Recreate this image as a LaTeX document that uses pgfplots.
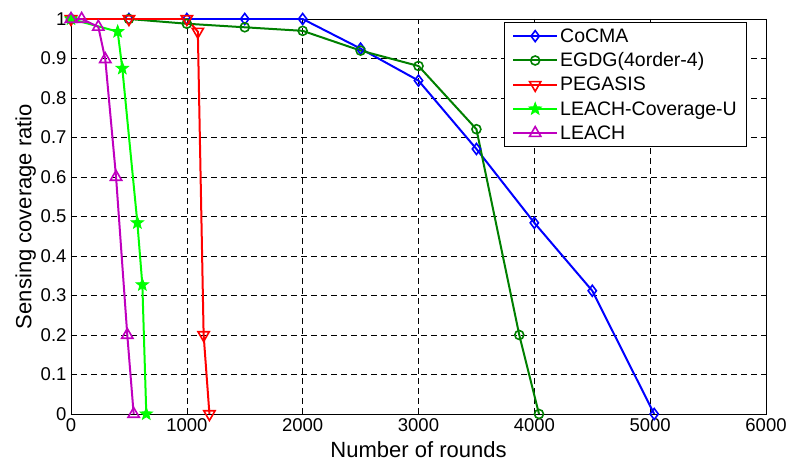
\documentclass[border=0pt]{standalone}
\usepackage{fontspec}
\setmainfont{Liberation Sans}
\usepackage{pgfplots}
\pgfplotsset{compat=1.18}
% filled five-pointed star, like MATLAB's pentagram marker
\pgfdeclareplotmark{fstar}{%
  \pgfpathmoveto{\pgfpointpolar{90}{\pgfplotmarksize}}%
  \pgfpathlineto{\pgfpointpolar{126}{0.42\pgfplotmarksize}}%
  \pgfpathlineto{\pgfpointpolar{162}{\pgfplotmarksize}}%
  \pgfpathlineto{\pgfpointpolar{198}{0.42\pgfplotmarksize}}%
  \pgfpathlineto{\pgfpointpolar{234}{\pgfplotmarksize}}%
  \pgfpathlineto{\pgfpointpolar{270}{0.42\pgfplotmarksize}}%
  \pgfpathlineto{\pgfpointpolar{306}{\pgfplotmarksize}}%
  \pgfpathlineto{\pgfpointpolar{342}{0.42\pgfplotmarksize}}%
  \pgfpathlineto{\pgfpointpolar{18}{\pgfplotmarksize}}%
  \pgfpathlineto{\pgfpointpolar{54}{0.42\pgfplotmarksize}}%
  \pgfpathclose
  \pgfusepathqfillstroke}
\definecolor{mgreen}{rgb}{0,0.5,0}
\definecolor{mlime}{rgb}{0,1,0}
\definecolor{mmag}{rgb}{0.75,0,0.75}
\begin{document}
\begin{tikzpicture}
  \begin{axis}[
    scale only axis, width=695pt, height=395pt,
    xmin=0, xmax=6000, ymin=0, ymax=1,
    xtick={0,1000,...,6000},
    ytick={0,0.1,...,1},
    scaled x ticks=false,
    /pgf/number format/assume math mode=true,
    /pgf/number format/1000 sep={},
    yticklabel style={/pgf/number format/fixed, xshift=-1pt},
    xticklabel style={yshift=-1pt},
    ticklabel style={font=\fontsize{18.5}{21}\selectfont},
    label style={font=\fontsize{22}{26}\selectfont},
    xlabel={Number of rounds},
    ylabel={Sensing coverage ratio},
    xlabel style={yshift=-3pt},
    ylabel style={yshift=-2pt},
    grid=major,
    major grid style={black, dash pattern=on 6pt off 4pt, line width=0.5pt},
    axis line style={line width=0.8pt},
    tick style={black, line width=0.6pt},
    major tick length=5pt,
    tick align=inside,
    legend style={at={(0.973,0.992)}, anchor=north east, draw=black, fill=white,
      font=\fontsize{19.5}{23}\selectfont, row sep=5pt, line width=0.8pt,
      inner xsep=8pt, inner ysep=4pt},
    legend cell align=left,
    legend image code/.code={%
      \draw[mark repeat=2, mark phase=2] plot coordinates {(0pt,0pt) (22pt,0pt) (44pt,0pt)};},
    every axis plot/.append style={line width=2pt},
  ]
    \addplot[color=blue, mark=diamond, mark size=5.5pt, mark options={line width=1.6pt}]
      coordinates {(0,1) (500,1) (1000,1) (1500,1) (2000,1) (2500,0.925) (3000,0.844) (3500,0.671) (4000,0.484) (4500,0.312) (5035,0)};
    \addlegendentry{CoCMA}
    \addplot[color=mgreen, mark=o, mark size=4.5pt, mark options={line width=1.6pt}]
      coordinates {(0,1) (500,1) (1000,0.988) (1500,0.979) (2000,0.97) (2500,0.92) (3000,0.881) (3500,0.721) (3870,0.2) (4040,0)};
    \addlegendentry{EGDG(4order-4)}
    \addplot[color=red, mark=triangle, mark size=6.5pt, mark options={rotate=180, line width=1.6pt}]
      coordinates {(0,1) (500,1) (1000,1) (1095,0.968) (1145,0.2) (1195,0)};
    \addlegendentry{PEGASIS}
    \addplot[color=mlime, mark=fstar, mark size=6.5pt, mark options={fill=mlime, line width=0.8pt}]
      coordinates {(0,1) (403,0.968) (443,0.875) (573,0.484) (616,0.327) (650,0)};
    \addlegendentry{LEACH-Coverage-U}
    \addplot[color=mmag, mark=triangle, mark size=6.5pt, mark options={line width=1.6pt}]
      coordinates {(0,1) (92,1) (236,0.98) (296,0.898) (389,0.6) (486,0.2) (541,0)};
    \addlegendentry{LEACH}
  \end{axis}
  \pgfresetboundingbox
  \path (current axis.south west) ++(-71pt,-48pt) coordinate (bbA);
  \path (current axis.north east) ++(22pt,19pt) coordinate (bbB);
  \useasboundingbox (bbA) rectangle (bbB);
\end{tikzpicture}
\end{document}
